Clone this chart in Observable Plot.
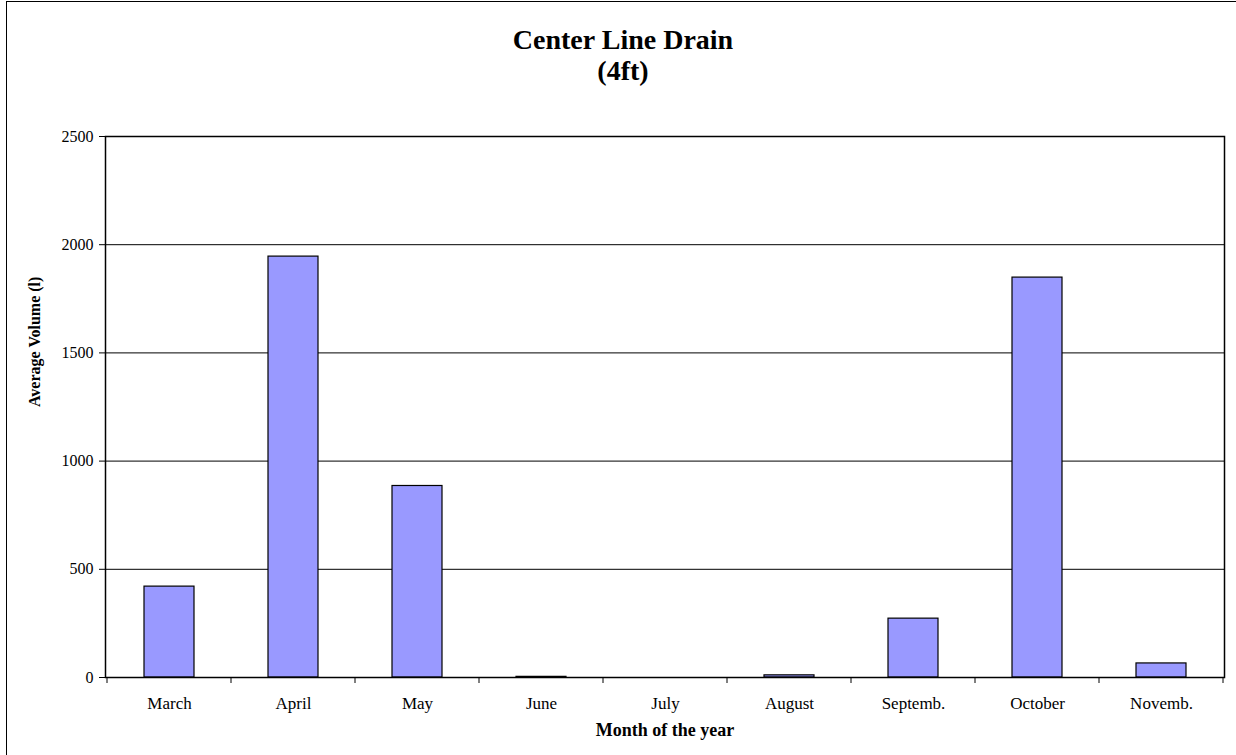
<!DOCTYPE html>
<html><head><meta charset="utf-8">
<script src="https://cdn.jsdelivr.net/npm/d3@7"></script>
<script src="https://cdn.jsdelivr.net/npm/@observablehq/plot@0.6"></script>
<style>
body{margin:0;background:#fff;}
#wrap{position:relative;width:1236px;height:755px;overflow:hidden;font-family:"Liberation Serif","Times New Roman",serif;}
#border{position:absolute;left:6px;top:1px;width:1300px;height:800px;border:1px solid #000;box-sizing:border-box;}
.title{position:absolute;left:0;width:1246px;text-align:center;font-weight:bold;font-size:28px;line-height:30px;color:#000;white-space:nowrap;}
#t1{top:25px;}
#t2{top:56px;}
#chart{position:absolute;left:0;top:0;}
</style></head>
<body>
<div id="wrap">
<div id="chart"></div>
<div id="border"></div>
<div class="title" id="t1">Center Line Drain</div>
<div class="title" id="t2">(4ft)</div>
</div>
<script>
const months = ["March","April","May","June","July","August","Septemb.","October","Novemb."];
const volumes = [420, 1945, 885, 3, 0, 10, 272, 1848, 65];
const yTicks = [0, 500, 1000, 1500, 2000, 2500];
const data = months.map((m, i) => ({month: m, volume: volumes[i]}));

const chart = Plot.plot({
  width: 1236,
  height: 755,
  marginLeft: 105,
  marginRight: 12,
  marginTop: 136,
  marginBottom: 78,
  style: {fontFamily: "'Liberation Serif','Times New Roman',serif", fontSize: "16px", color: "#000", background: "transparent"},
  x: {domain: months, paddingInner: 0.6, paddingOuter: 0.3, label: null, axis: null},
  y: {domain: [0, 2500], label: null, axis: null},
  marks: [
    Plot.gridY(yTicks, {stroke: "#000", strokeOpacity: 1, strokeWidth: 1}),
    Plot.barY(data, {x: "month", y: "volume", fill: "#9999FF", stroke: "#000", strokeWidth: 1.2}),
    Plot.frame({stroke: "#000", strokeWidth: 1.5}),
    Plot.axisY(yTicks, {tickSize: 6, tickPadding: 6, fontSize: 16, stroke: "#000", tickFormat: d => String(d)}),
    Plot.axisX(months, {tickSize: 0, tickPadding: 19, fontSize: 17}),
    Plot.text(["Month of the year"], {frameAnchor: "bottom", dy: 58, fontWeight: "bold", fontSize: 18}),
    Plot.text(["Average Volume (l)"], {frameAnchor: "left", dx: -71, rotate: -90, fontWeight: "bold", fontSize: 16})
  ]
});
document.getElementById("chart").appendChild(chart);

// x-axis ticks at category boundaries, positioned with the chart's scales
const xs = chart.scale("x");
const ys = chart.scale("y");
const step = xs.step;
const bounds = months.map(m => xs.apply(m) + xs.bandwidth / 2 - step / 2)
  .concat([xs.apply(months[months.length - 1]) + xs.bandwidth / 2 + step / 2]);
d3.select(chart).append("g").selectAll("line").data(bounds).join("line")
  .attr("x1", d => d).attr("x2", d => d)
  .attr("y1", ys.apply(0)).attr("y2", ys.apply(0) + 6)
  .attr("stroke", "#000");
</script>
</body></html>
